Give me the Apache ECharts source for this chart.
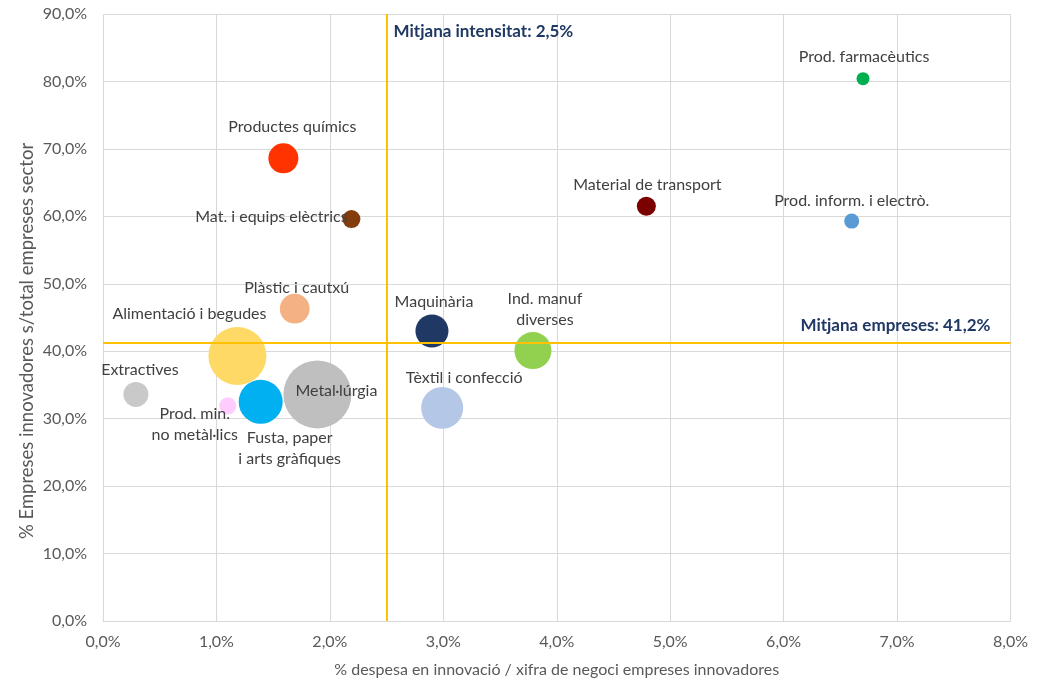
<!DOCTYPE html>
<html>
<head>
<meta charset="utf-8">
<script src="https://cdn.jsdelivr.net/npm/echarts@6/dist/echarts.min.js"></script>
<style>
  html, body { margin: 0; padding: 0; background: #ffffff; }
  #chart { width: 1041px; height: 683px; }
</style>
</head>
<body>
<div id="chart"></div>
<script>
// Sectors of industry: innovation spending intensity vs. share of innovative firms
const sectors = [
  'Prod. farmacèutics', 'Material de transport', 'Prod. inform. i electrò.',
  'Productes químics', 'Mat. i equips elèctrics', 'Plàstic i cautxú',
  'Maquinària', 'Ind. manuf\ndiverses', 'Alimentació i begudes',
  'Extractives', 'Prod. min.\nno metàl·lics', 'Fusta, paper\ni arts gràfiques',
  'Metal·lúrgia', 'Tèxtil i confecció'
];
// % despesa en innovació / xifra de negoci
const intensity = [6.70, 4.79, 6.60, 1.59, 2.19, 1.69, 2.90, 3.79, 1.185, 0.29, 1.10, 1.39, 1.89, 2.99];
// % empreses innovadores s/total
const innovShare = [80.4, 61.5, 59.3, 68.6, 59.6, 46.3, 43.0, 40.1, 39.3, 33.6, 31.9, 32.5, 33.6, 31.6];
// relative sector weight (bubble area)
const weight = [3.7, 7.8, 4.9, 19.5, 7.0, 19.1, 23.6, 29.6, 72.8, 13.5, 6.3, 41.9, 100, 38.1];

const meanIntensity = 2.5;
const meanFirms = 41.2;

const xTicks = [0, 1, 2, 3, 4, 5, 6, 7, 8];
const yTicks = [0, 10, 20, 30, 40, 50, 60, 70, 80, 90];

const xTitle = '% despesa en innovació / xifra de negoci empreses innovadores';
const yTitle = '% Empreses innovadores s/total empreses sector';

// Visual styling per bubble
const colors = ['#00B050', '#7B0000', '#5B9BD5', '#FF3300', '#843C0C', '#F4B183', '#1F3864',
  '#92D050', '#FFD966', '#C9C9C9', '#FFCCFF', '#00B0F0', '#BFBFBF', '#B4C7E7'];
// label shift from bubble centre, in pixels
const labelShift = [[1, -22], [1, -21], [0, -20], [9, -31], [-80, -2], [2, -21], [2, -29],
  [12, -41], [-48, -42], [4, -25], [-33, 18], [29, 47], [19, -4], [22, -30]];

const fmt = v => v.toFixed(1).replace('.', ',') + '%';
const FONT = 'Lato';

const bubbles = sectors.map((name, i) => ({
  name: name,
  value: [intensity[i], innovShare[i], weight[i]],
  itemStyle: { color: colors[i], opacity: 1 }
}));

const chart = echarts.init(document.getElementById('chart'), null, { renderer: 'canvas' });
chart.setOption({
  animation: false,
  backgroundColor: '#ffffff',
  grid: { left: 103, right: 30.5, top: 14, bottom: 59.5, containLabel: false },
  graphic: [
    {
      // vertical axis title
      type: 'text',
      x: 27, y: 341,
      rotation: Math.PI / 2,
      silent: true,
      style: {
        text: yTitle,
        fill: '#595959',
        fontSize: 18.5,
        fontFamily: FONT,
        align: 'center',
        verticalAlign: 'middle'
      }
    }
  ],
  xAxis: {
    type: 'value',
    min: xTicks[0], max: xTicks[xTicks.length - 1], interval: 1,
    name: xTitle,
    nameLocation: 'middle', nameGap: 41,
    nameTextStyle: { color: '#595959', fontSize: 16, fontFamily: FONT },
    axisLine: { show: true, lineStyle: { color: '#D9D9D9', width: 1 } },
    axisTick: { show: false },
    axisLabel: { color: '#595959', fontSize: 16, fontFamily: FONT, margin: 13, formatter: fmt },
    splitLine: { show: true, lineStyle: { color: '#D9D9D9', width: 1 } }
  },
  yAxis: {
    type: 'value',
    min: yTicks[0], max: yTicks[yTicks.length - 1], interval: 10,
    axisLine: { show: false },
    axisTick: { show: false },
    axisLabel: { color: '#595959', fontSize: 16, fontFamily: FONT, margin: 16, formatter: fmt },
    splitLine: { show: true, lineStyle: { color: '#D9D9D9', width: 1 } }
  },
  series: [
    {
      type: 'scatter',
      z: 3,
      data: bubbles,
      symbolSize: val => 68 * Math.sqrt(val[2] / 100),
      label: {
        show: true,
        position: 'inside',
        formatter: p => p.name,
        color: '#404040',
        fontSize: 16,
        fontFamily: FONT,
        lineHeight: 21,
        align: 'center',
        verticalAlign: 'middle'
      },
      labelLayout: p => ({ dx: labelShift[p.dataIndex][0], dy: labelShift[p.dataIndex][1], hideOverlap: false }),
      emphasis: { disabled: true }
    },
    {
      // average reference lines
      type: 'scatter',
      z: 2,
      data: [],
      silent: true,
      markLine: {
        silent: true,
        symbol: ['none', 'none'],
        label: { show: false },
        lineStyle: { color: '#FFC000', width: 2, type: 'solid' },
        data: [{ xAxis: meanIntensity }, { yAxis: meanFirms }]
      },
      markPoint: {
        silent: true,
        symbol: 'circle',
        symbolSize: 0,
        label: {
          show: true,
          position: 'inside',
          color: '#203864',
          fontWeight: 'bold',
          fontSize: 17,
          fontFamily: FONT
        },
        data: [
          {
            coord: [meanIntensity, yTicks[yTicks.length - 1]],
            label: { formatter: 'Mitjana intensitat: ' + meanIntensity.toFixed(1).replace('.', ',') + '%', align: 'left', offset: [7, 18] }
          },
          {
            coord: [xTicks[xTicks.length - 1], meanFirms],
            label: { formatter: 'Mitjana empreses: ' + meanFirms.toFixed(1).replace('.', ',') + '%', align: 'right', offset: [-20, -18] }
          }
        ]
      }
    }
  ]
});
</script>
</body>
</html>
